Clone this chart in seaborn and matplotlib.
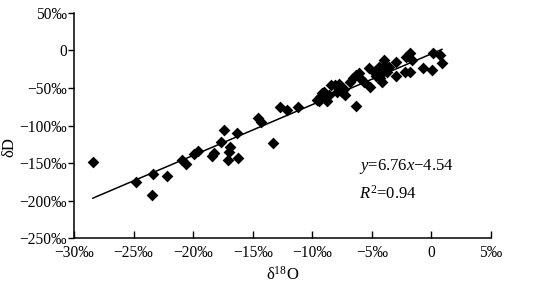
import matplotlib
matplotlib.use('agg')
from matplotlib import pyplot as plt
import numpy as np
import pandas as pd
import seaborn as sns

# delta 18O (per mil) and delta D (per mil) of the samples
d18O = [-28.43, -24.79, -23.33, -23.42, -22.16, -20.90, -20.62, -19.92, -19.58,
        -18.40, -18.21, -17.70, -17.42, -16.89, -17.00, -17.06, -16.27, -16.33,
        -14.54, -14.34, -12.69, -12.13, -13.31, -11.23,
        -9.61, -9.38, -9.19, -8.99, -8.77, -9.47, -8.63,
        -8.40, -8.12, -7.79, -7.65, -7.51, -7.23, -7.93, -7.37,
        -6.86, -6.58, -6.30, -6.11, -5.97, -5.69, -6.30,
        -5.27, -5.13, -4.85, -4.62, -4.43, -4.29, -4.15, -4.01, -3.87, -3.73,
        -4.06, -3.59,
        -2.94, -2.94, -2.24, -2.10, -1.76, -1.62, -1.76,
        -0.70, 0.06, 0.11, 0.70, 0.90]
dD = [-148.9, -175.0, -164.8, -191.8, -167.5, -145.3, -150.6, -138.2, -133.4,
      -140.0, -136.9, -122.3, -105.4, -128.9, -134.7, -146.2, -143.6, -110.3,
      -89.9, -95.7, -75.8, -79.3, -123.6, -74.9,
      -66.0, -61.6, -57.0, -55.0, -68.0, -68.0, -59.0,
      -46.0, -46.0, -44.7, -50.5, -55.0, -59.4, -55.0, -51.8,
      -41.6, -37.2, -32.8, -29.7, -37.2, -41.6, -74.0,
      -23.9, -49.2, -28.4, -34.1, -21.7, -37.2, -41.6, -12.8, -19.5, -28.4,
      -28.4, -21.7,
      -15.1, -34.1, -28.4, -8.4, -4.0, -12.8, -28.4,
      -23.9, -26.1, -4.0, -6.2, -17.3]

slope = 6.76
intercept = -4.54
r2 = 0.94

x_ticks = [-30, -25, -20, -15, -10, -5, 0, 5]
y_ticks = [-250, -200, -150, -100, -50, 0, 50]

df = pd.DataFrame({'d18O': d18O, 'dD': dD})

sns.set_style('ticks')
plt.rcParams['font.family'] = ['Liberation Serif', 'DejaVu Serif']
plt.rcParams['mathtext.fontset'] = 'custom'
plt.rcParams['mathtext.rm'] = 'Liberation Serif'
plt.rcParams['mathtext.it'] = 'Liberation Serif:italic'

fig = plt.figure(figsize=(5.45, 2.85), dpi=100)
ax = fig.add_axes([0.1358, 0.164, 0.7652, 0.791])

sns.scatterplot(x='d18O', y='dD', data=df, marker='D', color='black',
                s=36, linewidth=0, ax=ax, zorder=3)

xf = np.array([min(d18O), max(d18O)])
ax.plot(xf, slope * xf + intercept, color='black', lw=1.1, zorder=2)


def fmt(v):
    if v == 0:
        return '0'
    return '{}{}‰'.format('\u2212' if v < 0 else '', abs(v))


ax.set_xlim(-30, 5)
ax.set_ylim(-250, 50)
ax.set_xticks(x_ticks)
ax.set_xticklabels([fmt(v) for v in x_ticks])
ax.set_yticks(y_ticks)
ax.set_yticklabels([fmt(v) for v in y_ticks])

ax.tick_params(axis='x', direction='in', length=5, width=1, pad=5,
               labelsize=11.2, colors='black')
ax.tick_params(axis='y', direction='out', length=4, width=1, pad=1,
               labelsize=11.2, colors='black')
for side in ['left', 'bottom']:
    ax.spines[side].set_linewidth(1.1)
    ax.spines[side].set_color('black')
sns.despine(ax=ax)

ax.set_xlabel('δ$^{18}$O', fontsize=12, labelpad=3, color='black')
ax.set_ylabel('δD', fontsize=12, color='black')
ax.yaxis.set_label_coords(-0.136, 0.405)

ax.text(-6.1, -155, '$y$=6.76$x$\u22124.54', fontsize=12, va='center',
        ha='left', color='black')
ax.text(-6.1, -191, '$R^2$=0.94', fontsize=12, va='center', ha='left',
        color='black')

plt.savefig('out.png', dpi=100)
plt.close()
